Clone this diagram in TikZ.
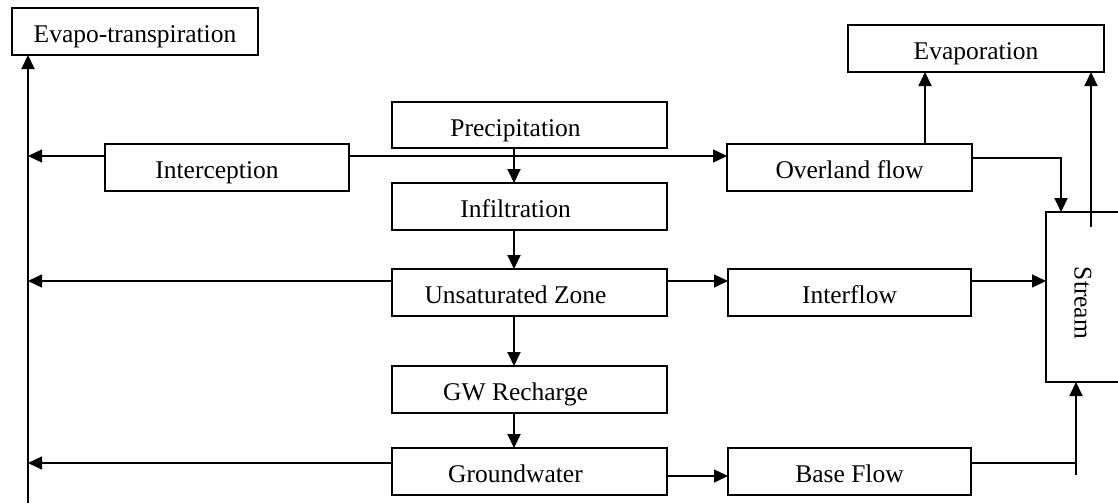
\documentclass[tikz,border=0pt]{standalone}
\usepackage{fontspec}
\setmainfont{Liberation Serif}
\usetikzlibrary{arrows.meta}
\newcommand{\dn}[1]{\raisebox{-11pt}[0pt][0pt]{#1}}
\begin{document}
\begin{tikzpicture}[x=1pt,y=-1pt,
  box/.style={draw,line width=2pt,inner sep=0pt,outer sep=0pt,font=\fontsize{25.5}{27}\selectfont},
  arr/.style={-{Triangle[length=14pt,width=13pt]},line width=1.9pt},
  thinarr/.style={-{Triangle[length=14pt,width=13pt]},line width=1.3pt},
  plain/.style={line width=1.9pt}]
\useasboundingbox (0,0) rectangle (1118,503);
% boxes
\node[box,minimum width=246pt,minimum height=47pt] (et) at (135,31.5) {\dn{Evapo-transpiration}};
\node[box,minimum width=256pt,minimum height=47pt] (evap) at (976,48.5) {\dn{Evaporation}};
\node[box,minimum width=275pt,minimum height=46pt] (prec) at (529.5,125) {\hspace*{-28pt}\dn{Precipitation}};
\node[box,minimum width=244pt,minimum height=47pt] (intc) at (227,167.5) {\hspace*{-20pt}\dn{Interception}};
\node[box,minimum width=245pt,minimum height=47pt] (over) at (849.5,167.5) {\dn{Overland flow}};
\node[box,minimum width=275pt,minimum height=47pt] (inf) at (529.5,206.5) {\hspace*{-28pt}\dn{Infiltration}};
\node[box,minimum width=275pt,minimum height=47pt] (unsat) at (529.5,292.5) {\hspace*{-28pt}\dn{Unsaturated Zone}};
\node[box,minimum width=243pt,minimum height=47pt] (iflow) at (849.5,292.5) {\dn{Interflow}};
\node[box,minimum width=275pt,minimum height=47pt] (gwr) at (529.5,389.5) {\hspace*{-28pt}\dn{GW Recharge}};
\node[box,minimum width=275pt,minimum height=47pt] (gw) at (529.5,471.5) {\hspace*{-28pt}\dn{Groundwater}};
\node[box,minimum width=243pt,minimum height=47pt] (base) at (849.5,471) {\dn{Base Flow}};
\node[box,minimum width=76pt,minimum height=170pt] (stream) at (1084,297) {};
\node[font=\fontsize{25.5}{27}\selectfont,rotate=-90] (streamtxt) at (1083,303) {Stream};
% left collector line
\coordinate (lb) at (28,503);
\draw[arr] (lb) -- (et.south -| lb);
\coordinate (l1) at (28,156);
\coordinate (l2) at (28,281);
\coordinate (l3) at (28,463);
\draw[thinarr] (intc.west |- l1) -- (l1);
\draw[thinarr] (unsat.west |- l2) -- (l2);
\draw[thinarr] (gw.west |- l3) -- (l3);
% interception to overland flow
\draw[thinarr] (intc.east |- l1) -- (over.west |- l1);
% vertical chain
\coordinate (cx) at (514,0);
\draw[arr] (prec.south -| cx) -- (inf.north -| cx);
\draw[arr] (inf.south -| cx) -- (unsat.north -| cx);
\draw[arr] (unsat.south -| cx) -- (gwr.north -| cx);
\draw[arr] (gwr.south -| cx) -- (gw.north -| cx);
% right side
\draw[thinarr] (unsat.east |- l2) -- (iflow.west |- l2);
\draw[thinarr] (iflow.east |- l2) -- (stream.west |- l2);
\coordinate (g2) at (0,476);
\draw[thinarr] (gw.east |- g2) -- (base.west |- g2);
% overland to evaporation and stream
\coordinate (ox) at (925,0);
\draw[arr] (over.north -| ox) -- (evap.south -| ox);
\coordinate (oy) at (1061,158);
\draw[arr] (over.east |- oy) -- (oy) -- (stream.north -| oy);
% stream to evaporation
\coordinate (sx) at (1091,227);
\draw[arr] (sx) -- (evap.south -| sx);
% base flow to stream
\coordinate (bx) at (1076,463);
\coordinate (bb) at (1076,475);
\draw[plain] (base.east |- bx) -- (bx);
\draw[arr] (bb) -- (stream.south -| bb);
\end{tikzpicture}
\end{document}
